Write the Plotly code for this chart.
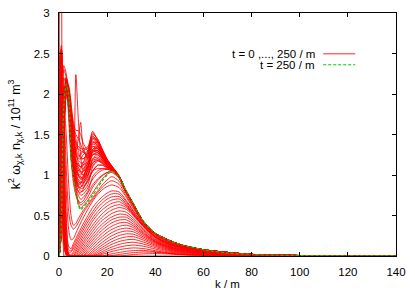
import plotly.graph_objects as go

# ---------------- data ----------------
k_grid = [0, 0.5, 1, 1.5, 2, 3, 4, 5, 6, 7, 8, 9, 10, 12, 14, 16, 18, 20, 22, 25,
          28, 31, 35, 40, 45, 50, 55, 60, 70, 80, 90, 100, 120, 140]

k_late = [0, 0.5, 1, 1.5, 2, 3, 4, 5, 6, 7, 8, 9, 10, 12, 14, 16, 18, 20, 22, 25,
          28, 31, 35, 40, 50, 60, 80, 100, 140]

x_ticks = [0, 20, 40, 60, 80, 100, 120, 140]
y_ticks = [0, 0.5, 1, 1.5, 2, 2.5, 3]

legend_labels = ["t = 0 ,..., 250 / m", "t = 250 / m"]

# t = 0 spectrum (spike at very low k)
curve_t0 = [0, 12, 4, 0.3, 0, 0, 0, 0, 0, 0, 0, 0, 0, 0, 0, 0, 0, 0, 0, 0,
            0, 0, 0, 0, 0, 0, 0, 0, 0, 0, 0, 0, 0, 0]

# early curves (growing bump, below the final curve)
early_curves = [
    [0, 2.5, 2.55, 1.0, 0.15, 0.01, 0, 0, 0, 0, 0, 0, 0, 0, 0, 0, 0, 0, 0, 0,
     .009, .018, .026, .03, .025, .017, .0105, .007, .0038, .002, .001, .0005, .0002, .0001],
    [0, 2.45, 2.55, 1.1, .18, .015, 0, 0, 0, 0, 0, 0, 0, 0, 0, 0, 0, 0, .005, .019,
     .032, .042, .049, .046, .033, .021, .0135, .0095, .005, .0028, .0014, .0007, .0002, .0001],
    [0, 2.4, 2.55, 1.15, .19, .018, 0, 0, 0, 0, 0, 0, 0, 0, 0, 0, 0, .014, .027, .044,
     .058, .067, .069, .053, .036, .022, .015, .011, .006, .0028, .0015, .0008, .0003, .0001],
    [0, 2.5, 2.6, 1.2, 0.2, 0.02, 0, 0, 0, 0, 0, 0, 0, 0, 0, 0, 0.02, 0.038, 0.056, 0.077,
     0.092, 0.1, 0.092, 0.066, 0.041, 0.027, 0.019, 0.014, 0.0074, 0.0034, 0.0019, 0.00095, 0.0004, 0.0002],
    [0, 2.45, 2.5, 1.3, .25, .025, 0, 0, 0, 0, 0, 0, 0, 0, 0, .01, .036, .06, .082, .109,
     .127, .135, .121, .086, .053, .035, .025, .0185, .0095, .0045, .0024, .0012, .0005, .0002],
    [0, 2.45, 2.55, 1.4, 0.3, 0.03, 0, 0, 0, 0, 0, 0, 0, 0, 0, 0.024, 0.055, 0.085, 0.112, 0.143,
     0.163, 0.17, 0.148, 0.104, 0.065, 0.043, 0.031, 0.023, 0.012, 0.0056, 0.003, 0.0015, 0.0006, 0.0003],
    [0, 2.35, 2.5, 1.45, .32, .035, 0, 0, 0, 0, 0, 0, 0, 0, .006, .044, .081, .114, .145, .179,
     .199, .205, .173, .12, .075, .05, .036, .026, .014, .0066, .0035, .0018, .0007, .0003],
    [0, 2.4, 2.5, 1.5, 0.35, 0.04, 0, 0, 0, 0, 0, 0, 0, 0, 0.022, 0.066, 0.107, 0.144, 0.178, 0.215,
     0.236, 0.238, 0.197, 0.134, 0.084, 0.056, 0.041, 0.03, 0.016, 0.0074, 0.004, 0.0021, 0.0008, 0.0004],
    [0, 2.3, 2.48, 1.55, .37, .045, 0, 0, 0, 0, 0, 0, 0, 0, .045, .093, .138, .179, .213, .253,
     .273, .268, .217, .147, .092, .063, .045, .033, .0175, .0082, .0045, .0023, .0009, .0004],
    [0, 2.3, 2.5, 1.6, 0.4, 0.05, 0, 0, 0, 0, 0, 0, 0, 0.014, 0.069, 0.122, 0.17, 0.214, 0.251, 0.291,
     0.309, 0.298, 0.236, 0.158, 0.099, 0.068, 0.05, 0.036, 0.019, 0.009, 0.005, 0.0025, 0.001, 0.0005],
    [0, 2.2, 2.45, 1.65, .42, .055, 0, 0, 0, 0, 0, 0, 0, .039, .099, .155, .207, .252, .29, .329,
     .345, .324, .254, .167, .107, .073, .053, .038, .02, .0095, .0053, .0027, .0011, .0005],
    [0, 2.2, 2.45, 1.7, 0.45, 0.06, 0, 0, 0, 0, 0, 0, 0, 0.066, 0.13, 0.19, 0.244, 0.291, 0.329, 0.367,
     0.38, 0.35, 0.27, 0.175, 0.112, 0.078, 0.057, 0.041, 0.022, 0.0103, 0.0057, 0.0029, 0.0012, 0.0006],
    [0, 2.1, 2.42, 1.75, .47, .065, 0, 0, 0, 0, 0, 0, .022, .093, .161, .224, .282, .33, .369, .407,
     .414, .371, .284, .181, .117, .082, .06, .043, .0235, .011, .006, .003, .0012, .0006],
    [0, 2.0, 2.4, 1.8, 0.5, 0.07, 0, 0, 0, 0, 0, 0.008, 0.046, 0.123, 0.195, 0.262, 0.32, 0.371, 0.41, 0.444,
     0.446, 0.392, 0.297, 0.185, 0.122, 0.086, 0.063, 0.045, 0.025, 0.0117, 0.0063, 0.0032, 0.0013, 0.0007],
    [0, 1.9, 2.35, 1.85, .55, .08, 0, 0, 0, 0, 0, .033, .073, .153, .228, .296, .358, .409, .449, .479,
     .478, .417, .315, .196, .129, .092, .068, .048, .0265, .0124, .0068, .0034, .0014, .0007],
    [0, 1.8, 2.3, 1.9, 0.6, 0.09, 0, 0, 0, 0, 0.017, 0.06, 0.103, 0.186, 0.264, 0.335, 0.395, 0.446, 0.484, 0.517,
     0.507, 0.44, 0.33, 0.205, 0.135, 0.096, 0.071, 0.051, 0.028, 0.013, 0.0072, 0.0036, 0.0015, 0.0008],
    [0, 1.7, 2.25, 1.95, .65, .1, 0, 0, 0, 0, .046, .091, .136, .222, .302, .379, .44, .486, .526, .557,
     .54, .465, .347, .216, .143, .102, .076, .054, .029, .0137, .0075, .0038, .0015, .0008],
    [0, 1.6, 2.2, 2.0, 0.7, 0.12, 0.01, 0, 0, 0.024, 0.072, 0.12, 0.167, 0.258, 0.341, 0.417, 0.48, 0.531, 0.569, 0.598,
     0.576, 0.492, 0.366, 0.228, 0.15, 0.108, 0.08, 0.057, 0.03, 0.0144, 0.0078, 0.004, 0.0016, 0.0009],
    [0, 1.5, 2.15, 2.05, .78, .13, .015, 0, 0, .051, .102, .152, .201, .296, .381, .457, .523, .575, .61, .634,
     .597, .502, .371, .232, .154, .111, .081, .058, .031, .0146, .008, .0041, .0016, .0009],
    [0, 1.4, 2.1, 2.1, 0.85, 0.15, 0.02, 0, 0.027, 0.08, 0.134, 0.186, 0.239, 0.335, 0.431, 0.509, 0.57, 0.616, 0.651, 0.67,
     0.616, 0.509, 0.375, 0.235, 0.157, 0.114, 0.084, 0.06, 0.032, 0.0147, 0.008, 0.0043, 0.0017, 0.0009],
    [0, 1.3, 2.0, 2.12, 1.0, .22, .03, .01, .056, .113, .169, .224, .277, .377, .469, .546, .61, .659, .691, .704,
     .631, .518, .377, .236, .161, .116, .085, .062, .031, .015, .0079, .0043, .0017, .0009],
    [0, 1.2, 1.9, 2.15, 1.2, 0.3, 0.04, 0.05, 0.089, 0.148, 0.206, 0.263, 0.318, 0.42, 0.514, 0.592, 0.655, 0.702, 0.73, 0.733,
     0.644, 0.525, 0.377, 0.237, 0.163, 0.118, 0.085, 0.063, 0.03, 0.0155, 0.0078, 0.0044, 0.0017, 0.0009],
    [0, 1.1, 1.8, 2.12, 1.35, .4, .08, .062, .122, .183, .242, .3, .354, .46, .55, .632, .694, .739, .767, .763,
     .667, .543, .388, .244, .168, .122, .088, .065, .031, .016, .0081, .0045, .0017, .001],
    [0, 1.0, 1.7, 2.1, 1.5, 0.5, 0.12, 0.089, 0.153, 0.215, 0.277, 0.335, 0.394, 0.5, 0.6, 0.672, 0.733, 0.778, 0.804, 0.79,
     0.684, 0.555, 0.393, 0.251, 0.172, 0.126, 0.089, 0.066, 0.032, 0.017, 0.0084, 0.0046, 0.0018, 0.001],
    [0, 0.8, 1.5, 2.0, 1.7, 0.81, 0.33, 0.2, 0.216, 0.282, 0.347, 0.408, 0.468, 0.577, 0.677, 0.759, 0.818, 0.858, 0.877, 0.845,
     0.722, 0.581, 0.405, 0.26, 0.18, 0.132, 0.095, 0.07, 0.033, 0.018, 0.0088, 0.0049, 0.0018, 0.001],
    [0, 0.6, 1.3, 1.9, 1.8, 1.1, 0.55, 0.38, 0.33, 0.36, 0.41, 0.47, 0.53, 0.62, 0.70, 0.78, 0.85, 0.90, 0.93, 0.884,
     0.743, 0.597, 0.409, 0.266, 0.185, 0.136, 0.098, 0.072, 0.034, 0.0175, 0.0085, 0.0048, 0.0017, 0.001],
    [0, 0.4, 1.1, 1.8, 1.9, 1.5, 0.9, 0.5, 0.38, 0.40, 0.46, 0.51, 0.56, 0.64, 0.72, 0.80, 0.88, 0.94, 0.98, 0.92,
     0.77, 0.615, 0.415, 0.27, 0.19, 0.14, 0.104, 0.075, 0.035, 0.019, 0.0095, 0.0056, 0.0019, 0.001],
]

# intermediate curves (overshoot above the final curve at k < 25)
late_curves = [
    [0, .3, 1.0, 1.9, 2.3, 2.2, 1.7, 1.2, .9, .75, .68, .66, .68, .78, .88, .95, 1.0, 1.03, 1.03, .96,
     .792, .634, .426, .277, .144, .077, .0198, .006, .001],
    [0, .25, .9, 1.8, 2.35, 2.25, 1.9, 1.45, 1.1, .9, .8, .78, .82, .95, 1.05, 1.08, 1.08, 1.07, 1.05, .96,
     .784, .627, .421, .274, .142, .0765, .0196, .0059, .001],
    [0, .2, .8, 1.7, 2.2, 2.1, 1.95, 1.6, 1.25, 1.0, .88, .85, .9, 1.05, 1.18, 1.2, 1.15, 1.1, 1.06, .97,
     .784, .627, .421, .274, .142, .0765, .0196, .0059, .001],
    [0, .2, .7, 1.5, 2.0, 2.2, 2.05, 1.75, 1.4, 1.15, 1.0, .95, .98, 1.15, 1.3, 1.28, 1.2, 1.13, 1.07, .97,
     .776, .621, .417, .272, .141, .076, .0194, .0058, .001],
    [0, .15, .6, 1.3, 1.85, 2.15, 2.1, 1.9, 1.55, 1.3, 1.15, 1.1, 1.15, 1.3, 1.54, 1.42, 1.28, 1.18, 1.1, .98,
     .776, .621, .417, .272, .141, .076, .0194, .0058, .001],
    [0, .15, .55, 1.2, 1.75, 2.1, 2.0, 1.8, 1.6, 1.45, 1.3, 1.2, 1.2, 1.25, 1.45, 1.38, 1.26, 1.16, 1.09, .98,
     .784, .627, .421, .274, .142, .0765, .0196, .0059, .001],
    [0, .12, .5, 1.1, 1.6, 2.05, 2.05, 1.7, 1.4, 1.3, 1.45, 1.65, 1.35, 1.2, 1.38, 1.35, 1.25, 1.15, 1.08, .98,
     .784, .627, .421, .274, .142, .0765, .0196, .0059, .001],
    [0, .12, .45, 1.0, 1.5, 2.0, 1.8, 1.3, 1.1, 2.24, 1.7, 1.25, 1.05, 1.1, 1.3, 1.3, 1.22, 1.14, 1.08, .98,
     .784, .627, .421, .274, .142, .0765, .0196, .0059, .001],
    [0, .1, .4, .9, 1.4, 1.95, 1.95, 1.6, 1.3, 1.15, 1.1, 1.05, 1.0, 1.08, 1.28, 1.3, 1.22, 1.13, 1.07, .98,
     .792, .634, .426, .277, .144, .077, .0198, .006, .001],
    [0, .1, .4, .9, 1.4, 2.0, 1.9, 1.45, 1.15, 1.0, .95, .92, .9, .98, 1.2, 1.25, 1.2, 1.12, 1.07, .98,
     .792, .634, .426, .277, .144, .077, .0198, .006, .001],
    [0, .1, .45, 1.0, 1.5, 2.05, 1.95, 1.35, 1.05, .92, .85, .8, .8, .88, 1.1, 1.17, 1.15, 1.1, 1.07, .98,
     .792, .634, .426, .277, .144, .077, .0198, .006, .001],
    [0, .1, .45, 1.05, 1.55, 2.1, 1.95, 1.3, 1.0, .85, .75, .7, .72, .8, .98, 1.05, 1.08, 1.08, 1.06, .97,
     .792, .634, .426, .277, .144, .077, .0198, .006, .001],
    [0, .1, .5, 1.1, 1.6, 2.1, 1.95, 1.25, .98, .82, .68, .63, .65, .73, .85, .93, .99, 1.03, 1.06, .97,
     .80, .64, .43, .28, .145, .078, .02, .006, .001],
    [0, .1, .5, 1.15, 1.65, 2.12, 1.95, 1.22, .97, .8, .65, .59, .62, .69, .78, .87, .95, 1.01, 1.05, .97,
     .80, .64, .43, .28, .145, .078, .02, .006, .001],
    [0, .12, .5, 1.1, 1.6, 2.1, 2.0, 1.75, 1.5, 1.25, 1.2, 1.2, 1.25, 1.3, 1.42, 1.36, 1.27, 1.17, 1.1, .98,
     .784, .627, .421, .274, .142, .0765, .0196, .0059, .001],
    [0, .12, .5, 1.1, 1.6, 2.05, 1.9, 1.55, 1.25, 1.1, 1.02, 1.0, 1.05, 1.2, 1.35, 1.33, 1.24, 1.15, 1.09, .98,
     .784, .627, .421, .274, .142, .0765, .0196, .0059, .001],
    [0, .15, .6, 1.3, 1.8, 2.2, 2.05, 1.65, 1.3, 1.05, .93, .9, .95, 1.12, 1.25, 1.25, 1.18, 1.12, 1.07, .97,
     .784, .627, .421, .274, .142, .0765, .0196, .0059, .001],
    [0, .15, .6, 1.3, 1.85, 2.2, 2.0, 1.5, 1.15, .95, .85, .85, .88, 1.0, 1.15, 1.18, 1.14, 1.1, 1.06, .97,
     .784, .627, .421, .274, .142, .0765, .0196, .0059, .001],
    [0, .12, .5, 1.1, 1.65, 2.1, 1.98, 1.6, 1.35, 1.2, 1.12, 1.1, 1.12, 1.22, 1.4, 1.4, 1.3, 1.18, 1.1, .98,
     .784, .627, .421, .274, .142, .0765, .0196, .0059, .001],
    [0, .14, .55, 1.2, 1.7, 2.15, 2.02, 1.7, 1.45, 1.32, 1.25, 1.22, 1.2, 1.28, 1.5, 1.45, 1.32, 1.2, 1.11, .99,
     .784, .627, .421, .274, .142, .0765, .0196, .0059, .001],
    [0, .1, .45, 1.0, 1.5, 2.0, 1.92, 1.5, 1.2, 1.05, 1.0, .98, .95, 1.02, 1.15, 1.2, 1.17, 1.12, 1.08, .98,
     .792, .634, .426, .277, .144, .077, .0198, .006, .001],
    [0, .1, .45, 1.0, 1.5, 2.05, 1.9, 1.4, 1.1, .95, .9, .88, .86, .93, 1.05, 1.12, 1.12, 1.09, 1.07, .98,
     .792, .634, .426, .277, .144, .077, .0198, .006, .001],
    [0, .1, .5, 1.1, 1.6, 2.1, 1.95, 1.3, 1.0, .88, .8, .75, .76, .84, .95, 1.02, 1.06, 1.07, 1.06, .97,
     .80, .64, .43, .28, .145, .078, .02, .006, .001],
    [0, .13, .55, 1.2, 1.7, 2.15, 2.05, 1.8, 1.6, 1.5, 1.45, 1.38, 1.3, 1.22, 1.35, 1.33, 1.25, 1.16, 1.09, .98,
     .784, .627, .421, .274, .142, .0765, .0196, .0059, .001],
    [0, .13, .55, 1.2, 1.75, 2.2, 2.1, 1.85, 1.65, 1.55, 1.55, 1.5, 1.4, 1.3, 1.47, 1.4, 1.29, 1.18, 1.1, .98,
     .784, .627, .421, .274, .142, .0765, .0196, .0059, .001],
    [0, .1, .45, 1.0, 1.55, 2.05, 1.92, 1.45, 1.18, 1.08, 1.05, 1.08, 1.12, 1.16, 1.32, 1.32, 1.24, 1.15, 1.09, .98,
     .784, .627, .421, .274, .142, .0765, .0196, .0059, .001],
    [0, .1, .5, 1.05, 1.6, 2.08, 1.94, 1.35, 1.05, .93, .88, .9, .95, 1.05, 1.2, 1.22, 1.18, 1.12, 1.07, .98,
     .792, .634, .426, .277, .144, .077, .0198, .006, .001],
    [0, .11, .5, 1.05, 1.6, 2.1, 1.96, 1.5, 1.25, 1.12, 1.06, 1.02, 1.0, 1.1, 1.25, 1.28, 1.22, 1.14, 1.08, .98,
     .792, .634, .426, .277, .144, .077, .0198, .006, .001],
    [0, .12, .5, 1.1, 1.6, 2.08, 1.98, 1.65, 1.4, 1.25, 1.18, 1.15, 1.15, 1.25, 1.45, 1.42, 1.3, 1.18, 1.1, .98,
     .784, .627, .421, .274, .142, .0765, .0196, .0059, .001],
    [0, .12, .5, 1.1, 1.62, 2.1, 2.0, 1.7, 1.5, 1.38, 1.32, 1.3, 1.28, 1.26, 1.4, 1.37, 1.27, 1.17, 1.1, .98,
     .784, .627, .421, .274, .142, .0765, .0196, .0059, .001],
    [0, .11, .48, 1.05, 1.58, 2.06, 1.96, 1.55, 1.3, 1.18, 1.12, 1.1, 1.08, 1.15, 1.3, 1.33, 1.26, 1.16, 1.09, .98,
     .784, .627, .421, .274, .142, .0765, .0196, .0059, .001],
    [0, .11, .48, 1.05, 1.58, 2.06, 1.94, 1.48, 1.2, 1.05, .98, .95, .95, 1.08, 1.25, 1.27, 1.21, 1.14, 1.08, .98,
     .792, .634, .426, .277, .144, .077, .0198, .006, .001],
    [0, .1, .47, 1.03, 1.55, 2.05, 1.93, 1.42, 1.12, .98, .92, .9, .92, 1.0, 1.12, 1.18, 1.16, 1.11, 1.07, .98,
     .792, .634, .426, .277, .144, .077, .0198, .006, .001],
    [0, .13, .55, 1.2, 1.72, 2.16, 2.04, 1.75, 1.52, 1.4, 1.35, 1.33, 1.32, 1.35, 1.52, 1.44, 1.31, 1.19, 1.11, .99,
     .784, .627, .421, .274, .142, .0765, .0196, .0059, .001],
    [0, .13, .52, 1.15, 1.68, 2.12, 2.0, 1.68, 1.42, 1.28, 1.22, 1.25, 1.3, 1.33, 1.48, 1.42, 1.3, 1.19, 1.1, .98,
     .784, .627, .421, .274, .142, .0765, .0196, .0059, .001],
    [0, .11, .5, 1.08, 1.6, 2.08, 1.95, 1.5, 1.22, 1.08, 1.0, .97, .98, 1.1, 1.28, 1.3, 1.23, 1.15, 1.09, .98,
     .792, .634, .426, .277, .144, .077, .0198, .006, .001],
    [0, .1, .48, 1.05, 1.58, 2.07, 1.94, 1.38, 1.08, .94, .86, .83, .84, .92, 1.05, 1.12, 1.12, 1.09, 1.07, .97,
     .792, .634, .426, .277, .144, .077, .0198, .006, .001],
    [0, .12, .52, 1.12, 1.65, 2.12, 1.98, 1.6, 1.32, 1.16, 1.08, 1.04, 1.04, 1.15, 1.32, 1.35, 1.27, 1.17, 1.1, .98,
     .784, .627, .421, .274, .142, .0765, .0196, .0059, .001],
]

# final spectrum, t = 250 / m
curve_final = [0, 0.08, 0.4, 1.35, 1.85, 2.12, 2.0, 1.2, 0.97, 0.79, 0.63, 0.57, 0.6, 0.67, 0.75, 0.84, 0.93, 1.0, 1.05, 0.97,
               0.80, 0.64, 0.43, 0.28, 0.2, 0.145, 0.11, 0.078, 0.036, 0.02, 0.01, 0.006, 0.002, 0.001]

# ---------------- styling ----------------
RED = "rgba(255,0,0,0.85)"
GREEN = "rgb(0,205,0)"
FONT = "Liberation Sans, Arial, Helvetica, sans-serif"
FS = 11.5
LW = 1.0

fig = go.Figure()

fig.add_trace(go.Scatter(x=k_grid, y=curve_t0, mode="lines",
                         line=dict(color=RED, width=LW), showlegend=False, hoverinfo="skip"))
for ys in early_curves:
    fig.add_trace(go.Scatter(x=k_grid, y=ys, mode="lines",
                             line=dict(color=RED, width=LW, shape="spline", smoothing=0.7),
                             showlegend=False, hoverinfo="skip"))
for ys in late_curves:
    fig.add_trace(go.Scatter(x=k_late, y=ys, mode="lines",
                             line=dict(color=RED, width=LW, shape="spline", smoothing=0.7),
                             showlegend=False, hoverinfo="skip"))
fig.add_trace(go.Scatter(x=k_grid, y=curve_final, mode="lines",
                         line=dict(color=GREEN, width=1.2, dash="3px,2px", shape="spline", smoothing=0.7),
                         showlegend=False, hoverinfo="skip"))

axis_common = dict(showline=True, linecolor="black", linewidth=1, mirror="ticks",
                   ticks="inside", ticklen=4, tickcolor="black", tickwidth=1,
                   showgrid=False, zeroline=False, automargin=False,
                   tickfont=dict(family=FONT, size=FS, color="black"))

fig.update_xaxes(range=[0, 140], tickvals=x_ticks, ticktext=[str(v) for v in x_ticks],
                 ticklabelstandoff=5, **axis_common)
fig.update_yaxes(range=[0, 3], tickvals=y_ticks, ticktext=[("%g" % v) for v in y_ticks],
                 ticklabelstandoff=6, **axis_common)

# axis titles
fig.add_annotation(text="k / m", xref="paper", yref="paper", x=0.5, y=-0.117,
                   xanchor="center", yanchor="middle", showarrow=False,
                   font=dict(family=FONT, size=FS, color="black"))
fig.add_annotation(text="k<sup>2</sup> ω<sub>χ,k</sub> n<sub>χ,k</sub> / 10<sup>11</sup> m<sup>3</sup>",
                   xref="paper", yref="paper", x=-0.131, y=0.5, textangle=-90,
                   xanchor="center", yanchor="middle", showarrow=False,
                   font=dict(family=FONT, size=12.5, color="black"))

# key (text right-aligned, sample to the right, as in the reference)
key_rows = [(0.832, RED, None), (0.787, GREEN, "3px,2px")]
for (ky, col, dash), label in zip(key_rows, legend_labels):
    fig.add_annotation(text=label, xref="paper", yref="paper", x=0.766, y=ky,
                       xanchor="right", yanchor="middle", showarrow=False,
                       font=dict(family=FONT, size=FS, color="black"))
    fig.add_shape(type="line", xref="paper", yref="paper", x0=0.784, x1=0.879, y0=ky, y1=ky,
                  line=dict(color=col, width=1.2 if dash else 1, dash=dash or "solid"))

fig.update_layout(width=415, height=291, margin=dict(l=59, r=19, t=13, b=35),
                  paper_bgcolor="white", plot_bgcolor="white",
                  font=dict(family=FONT, size=FS, color="black"))

fig.write_html("out.html", config={"displayModeBar": False},
               post_script="document.body.style.margin='0px';")
